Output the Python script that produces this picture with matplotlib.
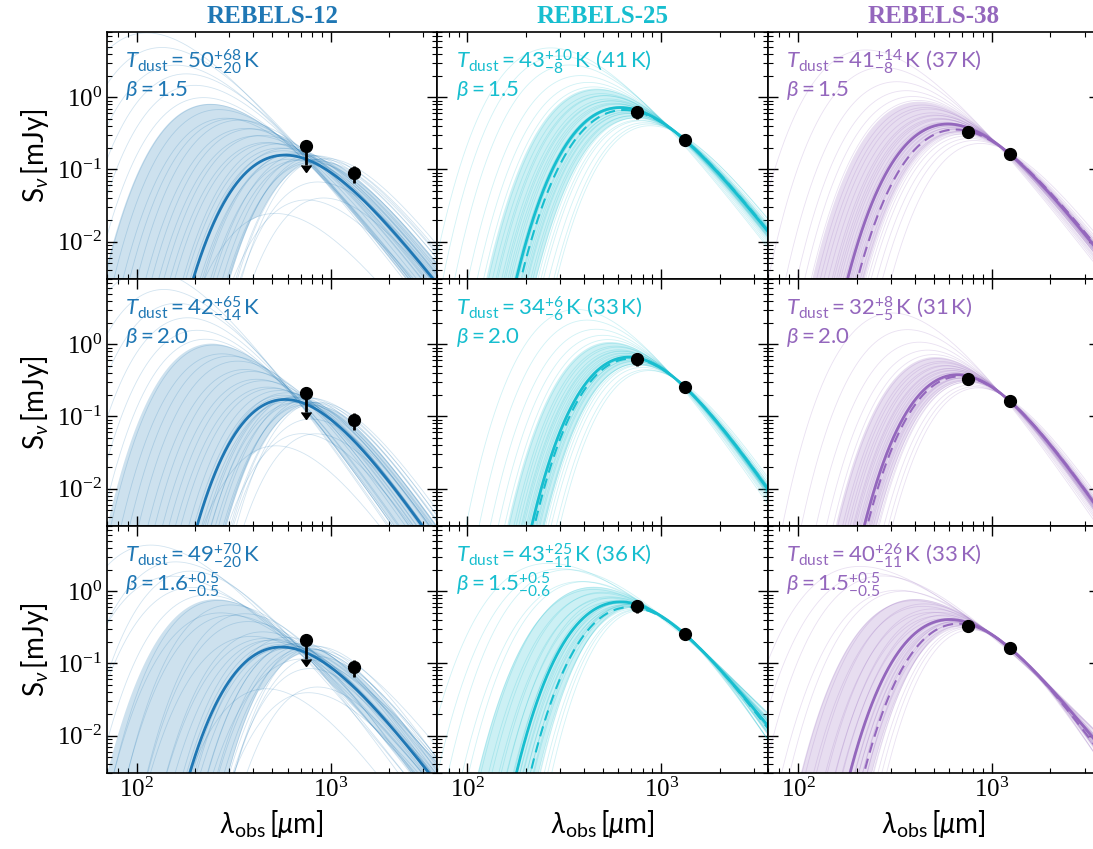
import numpy as np
import matplotlib
matplotlib.use('Agg')
import matplotlib.pyplot as plt

plt.rcParams['font.family'] = 'Liberation Serif'
plt.rcParams['mathtext.fontset'] = 'stix'
# sans settings used by the 'custom' math font family for the annotations
plt.rcParams['mathtext.rm'] = 'Lato'
plt.rcParams['mathtext.it'] = 'Lato:italic'
plt.rcParams['mathtext.bf'] = 'Lato:bold'
SANS = dict(fontfamily='Lato', math_fontfamily='custom')

# sources, redshifts and colours
names = ['REBELS-12', 'REBELS-25', 'REBELS-38']
redshifts = [7.35, 7.31, 6.58]
colors = ['#1f77b4', '#17becf', '#9467bd']

# photometry (um, mJy)
lam_data = [[750, 1320], [750, 1320], [750, 1230]]
flux_data = [[0.21, 0.088], [0.634, 0.257], [0.336, 0.165]]
flux_err = [[0.095, 0.024], [0.13, 0.02], [0.035, 0.015]]
is_uplim = [[True, False], [False, False], [False, False]]

# fixed beta per row (None = free)
row_beta = [1.5, 2.0, None]

# posterior draws: dust temperature, beta (row 3), flux at the reference wavelength
T_12a = [24, 25, 26, 27, 28, 29, 30, 31, 32, 34, 35, 36, 38, 40, 41, 43, 45, 47, 49, 50,
         52, 55, 58, 61, 65, 69, 74, 80, 87, 94, 102, 112, 122, 135, 150, 170, 200, 240]
S_12a = [0.11, 0.03, 0.10, 0.09, 0.045, 0.10, 0.085, 0.075, 0.09, 0.02, 0.07, 0.08, 0.06,
         0.07, 0.065, 0.05, 0.065, 0.055, 0.055, 0.06, 0.006, 0.05, 0.045, 0.05, 0.042, 0.045,
         0.038, 0.04, 0.033, 0.027, 0.028, 0.025, 0.024, 0.026, 0.027, 0.024, 0.025, 0.022]
T_12b = [24, 25, 26, 27, 27.5, 28, 29, 30, 31, 32, 33, 34, 35, 36, 37, 39, 40, 41, 42, 44,
         46, 48, 51, 54, 58, 62, 67, 73, 80, 88, 97, 107, 118, 132, 150, 175, 210]
S_12b = [0.10, 0.035, 0.09, 0.08, 0.05, 0.095, 0.08, 0.07, 0.085, 0.025, 0.065, 0.075, 0.058,
         0.065, 0.06, 0.048, 0.06, 0.05, 0.05, 0.052, 0.008, 0.045, 0.04, 0.042, 0.036, 0.038,
         0.032, 0.032, 0.028, 0.022, 0.021, 0.018, 0.017, 0.017, 0.017, 0.015, 0.014]
T_12c = [24, 25, 26, 27, 28, 29, 30, 31, 33, 34, 36, 37, 39, 40, 42, 44, 46, 48, 49, 51,
         53, 56, 59, 63, 67, 72, 78, 85, 92, 100, 110, 120, 133, 150, 170, 200, 240]
B_12c = [2.1, 1.9, 2.3, 1.7, 2.0, 1.5, 1.8, 2.2, 1.6, 1.4, 1.9, 1.7, 1.2, 2.0, 1.5, 1.8, 1.3,
         1.6, 1.7, 1.1, 1.9, 1.4, 1.6, 1.2, 2.0, 1.5, 1.0, 1.7, 1.3, 1.6, 1.1, 1.4, 1.8, 1.2,
         1.5, 1.0, 1.3]
S_12c = [0.105, 0.03, 0.09, 0.08, 0.045, 0.10, 0.085, 0.07, 0.085, 0.022, 0.07, 0.078, 0.06,
         0.065, 0.062, 0.05, 0.065, 0.052, 0.05, 0.058, 0.007, 0.048, 0.045, 0.048, 0.035, 0.042,
         0.04, 0.034, 0.035, 0.028, 0.032, 0.027, 0.02, 0.026, 0.022, 0.025, 0.02]

T_25a = [27, 28, 30, 32, 33, 34, 35, 36, 37, 38, 38.5, 39, 40, 40.5, 41, 42, 42.5, 43, 43.5,
         44, 45, 46, 47, 48, 49, 50, 52, 53, 55, 57, 60, 64, 70, 80, 90, 100]
S_25a = [0.28, 0.285, 0.275, 0.27, 0.265, 0.275, 0.26, 0.27, 0.255, 0.265, 0.26, 0.27, 0.25,
         0.262, 0.258, 0.265, 0.255, 0.26, 0.257, 0.25, 0.262, 0.255, 0.25, 0.258, 0.245, 0.25,
         0.255, 0.245, 0.24, 0.25, 0.242, 0.238, 0.235, 0.23, 0.22, 0.21]
T_25b = [23.5, 25, 27, 28, 29, 29.5, 30, 31, 31.5, 32, 32.5, 33, 33.5, 34, 34.5, 35, 35.5, 36,
         37, 37.5, 38, 39, 40, 41, 43, 45, 48, 52, 58, 66]
S_25b = [0.28, 0.27, 0.265, 0.27, 0.26, 0.265, 0.255, 0.262, 0.258, 0.265, 0.252, 0.26, 0.256,
         0.262, 0.25, 0.258, 0.255, 0.26, 0.25, 0.256, 0.252, 0.248, 0.255, 0.25, 0.245, 0.248,
         0.242, 0.238, 0.235, 0.225]
T_25c = [25, 27, 29, 30, 31, 32, 33, 34, 35, 36, 37, 38, 39, 40, 41, 42, 43, 44, 46, 48, 50,
         52, 55, 58, 62, 66, 70, 76, 84, 95, 110, 130]
B_25c = [2.4, 2.3, 2.1, 2.2, 2.0, 1.9, 2.1, 1.8, 1.9, 1.7, 1.8, 1.6, 1.7, 1.5, 1.6, 1.4, 1.5,
         1.5, 1.3, 1.4, 1.2, 1.3, 1.1, 1.2, 1.0, 1.1, 0.9, 1.0, 0.8, 0.9, 0.7, 0.6]
S_25c = [0.27, 0.26, 0.265, 0.255, 0.27, 0.26, 0.25, 0.265, 0.255, 0.262, 0.25, 0.258, 0.262,
         0.255, 0.25, 0.26, 0.252, 0.258, 0.248, 0.255, 0.25, 0.245, 0.252, 0.248, 0.255, 0.245,
         0.25, 0.24, 0.248, 0.242, 0.238, 0.23]

T_38a = [25, 28, 30, 32, 33, 34, 35, 36, 37, 37.5, 38, 39, 39.5, 40, 40.5, 41, 41.5, 42, 43,
         44, 45, 46, 47, 48, 50, 52, 54, 56, 59, 63, 68, 76, 90, 110]
S_38a = [0.175, 0.172, 0.17, 0.168, 0.172, 0.165, 0.17, 0.162, 0.168, 0.165, 0.17, 0.16, 0.166,
         0.163, 0.168, 0.162, 0.165, 0.164, 0.16, 0.166, 0.162, 0.158, 0.164, 0.16, 0.157, 0.162,
         0.156, 0.155, 0.158, 0.152, 0.15, 0.148, 0.145, 0.14]
T_38b = [22.5, 24, 25.5, 27, 27.5, 28, 29, 29.5, 30, 30.5, 31, 31.5, 32, 32.5, 33, 33.5, 34, 35,
         35.5, 36, 37, 38, 39, 40, 42, 44, 47, 52, 60, 72]
S_38b = [0.175, 0.17, 0.168, 0.172, 0.165, 0.168, 0.163, 0.17, 0.165, 0.162, 0.168, 0.164,
         0.166, 0.16, 0.165, 0.162, 0.167, 0.16, 0.164, 0.161, 0.165, 0.158, 0.162, 0.16, 0.157,
         0.159, 0.155, 0.152, 0.15, 0.145]
T_38c = [23, 25, 27, 28, 29, 30, 31, 32, 33, 34, 35, 36, 37, 38, 39, 40, 41, 43, 45, 47, 49,
         52, 55, 59, 63, 67, 72, 80, 90, 105, 125, 150]
B_38c = [2.4, 2.3, 2.1, 2.2, 2.0, 1.9, 2.0, 1.8, 1.9, 1.7, 1.8, 1.6, 1.7, 1.5, 1.6, 1.5, 1.4,
         1.5, 1.3, 1.4, 1.2, 1.3, 1.1, 1.2, 1.0, 1.1, 0.9, 1.0, 0.8, 0.9, 0.7, 0.6]
S_38c = [0.17, 0.168, 0.172, 0.165, 0.17, 0.163, 0.168, 0.162, 0.17, 0.165, 0.16, 0.167, 0.163,
         0.166, 0.16, 0.165, 0.162, 0.166, 0.158, 0.164, 0.16, 0.162, 0.156, 0.16, 0.158, 0.155,
         0.16, 0.152, 0.156, 0.15, 0.148, 0.145]

draws = [[(T_12a, None, S_12a), (T_12b, None, S_12b), (T_12c, B_12c, S_12c)],
         [(T_25a, None, S_25a), (T_25b, None, S_25b), (T_25c, B_25c, S_25c)],
         [(T_38a, None, S_38a), (T_38b, None, S_38b), (T_38c, B_38c, S_38c)]]

# median (solid) and best-fit (dashed) curves: [column][row]
med_T = [[46, 41, 47], [43, 34, 43], [41, 32, 40]]
med_B = [[1.5, 2.0, 1.6], [1.5, 2.0, 1.5], [1.5, 2.0, 1.5]]
med_S = [[0.05, 0.046, 0.047], [0.258, 0.257, 0.255], [0.165, 0.165, 0.165]]
best_T = [None, [41, 33, 36], [37, 31, 33]]
best_B = [None, [1.5, 2.0, 1.7], [1.5, 2.0, 1.8]]
best_S = [None, [0.26, 0.258, 0.257], [0.166, 0.165, 0.166]]

# panel labels
t_labels = [['50^{+68}_{-20}', '42^{+65}_{-14}', '49^{+70}_{-20}'],
            ['43^{+10}_{-8}', '34^{+6}_{-6}', '43^{+25}_{-11}'],
            ['41^{+14}_{-8}', '32^{+8}_{-5}', '40^{+26}_{-11}']]
best_labels = [[None, None, None], ['41', '33', '36'], ['37', '31', '33']]
b_labels = [['1.5', '2.0', '1.6^{+0.5}_{-0.5}'],
            ['1.5', '2.0', '1.5^{+0.5}_{-0.6}'],
            ['1.5', '2.0', '1.5^{+0.5}_{-0.5}']]

HC_K = 14387.77   # hc/k in um K
T_CMB0 = 2.725


def mbb(lam, z, T, beta, s_ref, lam_ref):
    # optically thin modified blackbody with CMB contrast, scaled to s_ref at lam_ref
    def shape(l):
        lr = np.asarray(l, dtype=float) / (1 + z)
        with np.errstate(over='ignore'):
            x = HC_K / (lr * T)
            xc = HC_K / (lr * T_CMB0 * (1 + z))
            return lr ** -(3 + beta) * (1 / np.expm1(x) - 1 / np.expm1(xc))
    return s_ref * shape(lam) / shape(lam_ref)


lam = np.logspace(np.log10(70), np.log10(3560), 400)

fig, axes = plt.subplots(3, 3, figsize=(10.93, 8.49), dpi=100, sharex=True, sharey=True)
fig.subplots_adjust(left=0.0976, right=1.0055, top=0.962, bottom=0.0892, wspace=0, hspace=0)

for j in range(3):
    z = redshifts[j]
    c = colors[j]
    lref = lam_data[j][1]
    for i in range(3):
        ax = axes[i, j]
        Ts, Bs, Ss = draws[j][i]
        curves = []
        for k in range(len(Ts)):
            b = row_beta[i] if Bs is None else Bs[k]
            curves.append(mbb(lam, z, Ts[k], b, Ss[k], lref))
        curves = np.array(curves)
        for cv in curves:
            ax.plot(lam, cv, color=c, lw=0.6, alpha=0.2)
        lo, hi = np.percentile(curves, [16, 84], axis=0)
        ax.fill_between(lam, lo, hi, color=c, alpha=0.22, lw=0)

        ax.plot(lam, mbb(lam, z, med_T[j][i], med_B[j][i], med_S[j][i], lref), color=c, lw=2)
        if best_T[j] is not None:
            ax.plot(lam, mbb(lam, z, best_T[j][i], best_B[j][i], best_S[j][i], lref),
                    color=c, lw=1.5, ls=(0, (5, 3)))

        for k in range(2):
            if is_uplim[j][k]:
                ax.errorbar(lam_data[j][k], flux_data[j][k], yerr=flux_err[j][k], uplims=True,
                            fmt='o', color='k', ms=8.5, elinewidth=2, capsize=3.5, zorder=10)
            else:
                ax.errorbar(lam_data[j][k], flux_data[j][k], yerr=flux_err[j][k],
                            fmt='o', color='k', ms=8.5, elinewidth=2, capsize=0, zorder=10)

        txt = r'$T_{\rm dust}=' + t_labels[j][i] + r'\,{\rm K}$'
        if best_labels[j][i] is not None:
            txt += ' (' + best_labels[j][i] + r'$\,$K)'
        ax.text(0.055, 0.88, txt, transform=ax.transAxes, color=c, fontsize=16, va='center',
                **SANS)
        ax.text(0.055, 0.765, r'$\beta=' + b_labels[j][i] + '$', transform=ax.transAxes,
                color=c, fontsize=16, va='center', **SANS)

        ax.set_xscale('log')
        ax.set_yscale('log')
        ax.set_xlim(70, 3560)
        ax.set_ylim(3e-3, 8)
        ax.tick_params(which='both', direction='in', top=True, right=True, labelsize=18)
        ax.tick_params(which='major', length=7, width=1)
        ax.tick_params(which='minor', length=3.5, width=0.8)
        for sp in ax.spines.values():
            sp.set_linewidth(1.2)
        if j == 0:
            ax.set_ylabel(r'$\mathrm{S}_\nu\,[\mathrm{mJy}]$', fontsize=20, labelpad=4, **SANS)
        if i == 2:
            ax.set_xlabel(r'$\lambda_{\rm obs}\,[\mu{\rm m}]$', fontsize=20, labelpad=4, **SANS)
        if i == 0:
            ax.set_title(names[j], color=c, fontsize=18, fontweight='bold', pad=7)

fig.savefig('out.png', dpi=100)
